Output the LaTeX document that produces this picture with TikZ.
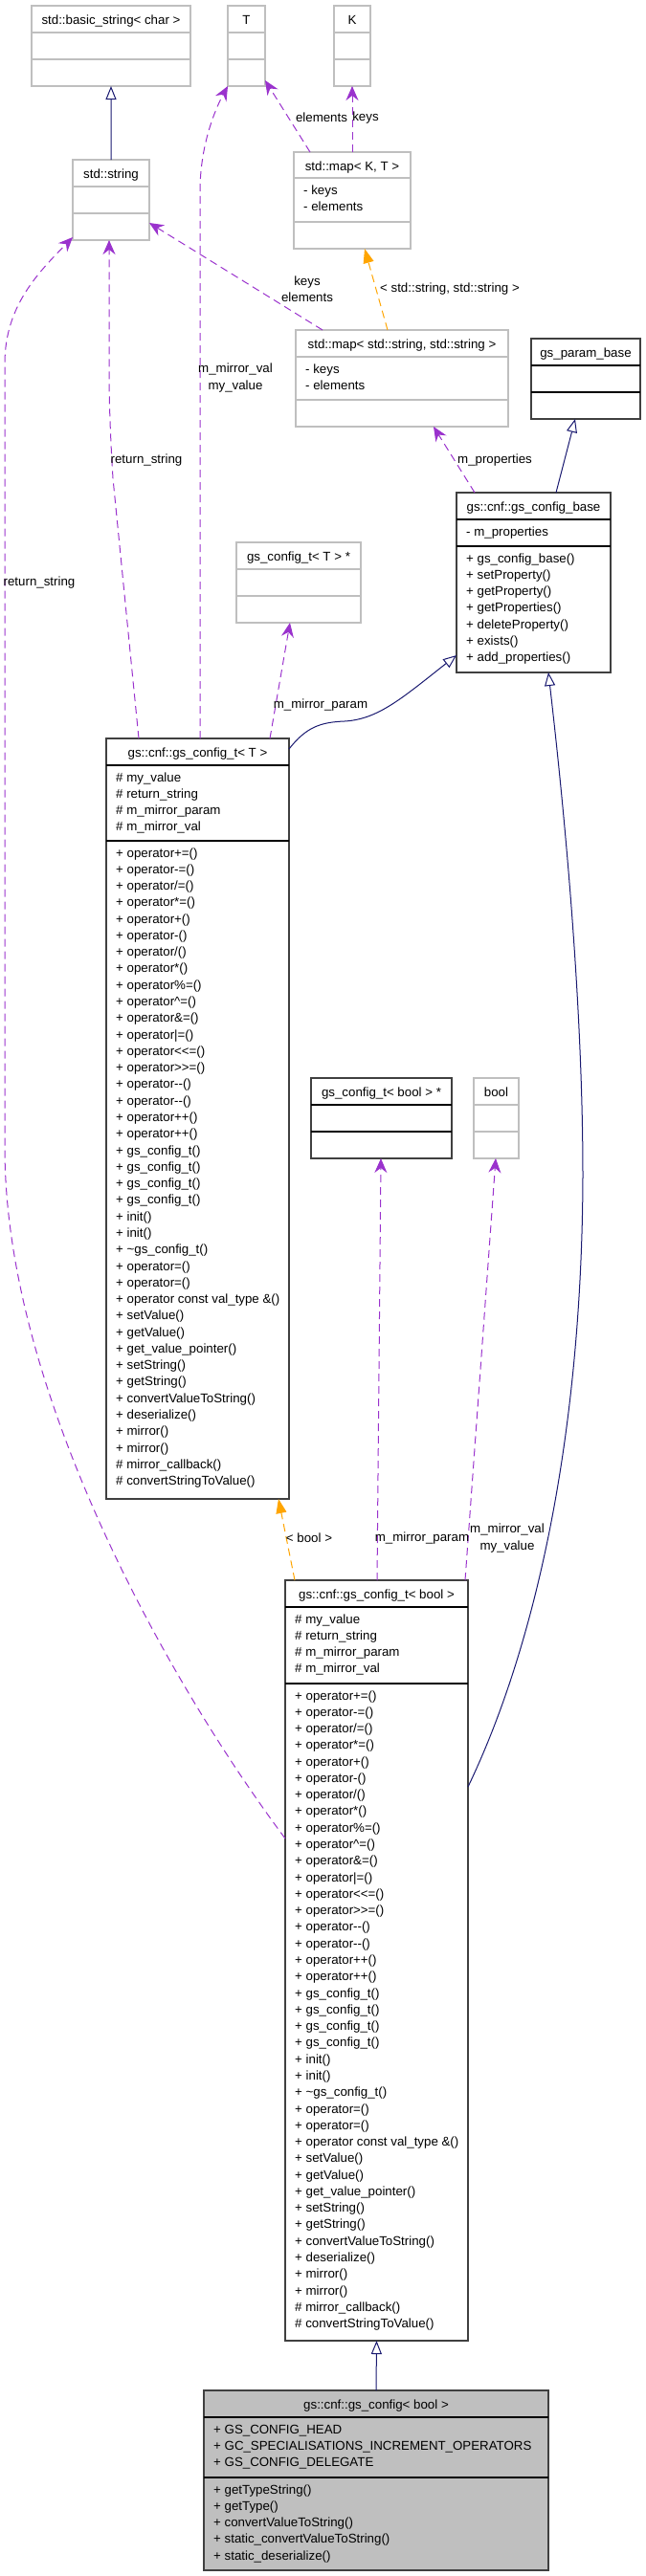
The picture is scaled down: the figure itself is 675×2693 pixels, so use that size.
\documentclass[tikz,border=0pt]{standalone}
\usepackage{fontspec}
\setmainfont{Liberation Sans}
\usetikzlibrary{arrows.meta,calc}
\definecolor{usecol}{HTML}{9A32CD}
\definecolor{tplcol}{HTML}{FFA500}
\definecolor{inhcol}{HTML}{191970}
\definecolor{undoc}{HTML}{BFBFBF}
\definecolor{docb}{HTML}{404040}
\tikzset{
  ucls/.style={draw=undoc, fill=white, line width=1.3bp, rectangle, inner sep=0pt, outer sep=0pt, anchor=north west},
  dcls/.style={draw=docb, fill=white, line width=1.3bp, rectangle, inner sep=0pt, outer sep=0pt, anchor=north west},
  gcls/.style={draw=docb, fill=undoc, line width=1.3bp, rectangle, inner sep=0pt, outer sep=0pt, anchor=north west},
  udiv/.style={draw=undoc, line width=1.3bp},
  ddiv/.style={draw=black, line width=1.3bp},
  txt/.style={font=\fontsize{13.3bp}{17.28bp}\selectfont, inner sep=0pt, text=black},
  lbl/.style={txt, align=center},
  usearrow/.style={draw=usecol, line width=1bp, dash pattern=on 8bp off 5bp,
    -{Stealth[length=15bp, width=13bp, inset=5bp]}},
  tplarrow/.style={draw=tplcol, line width=1bp, dash pattern=on 8bp off 5bp,
    -{Triangle[length=15bp, width=11bp]}},
  inharrow/.style={draw=inhcol, line width=1bp,
    -{Triangle[open, length=14bp, width=11bp, fill=white]}},
}
\newcommand\cbox[7]{%
  \node[#2, minimum width=#5bp, minimum height=#6bp] (#1) at (#3,#4) {};
  \node[txt, anchor=base] (#1-t) at ($(#1.north)+(0,19)$) {#7};
}
\newcommand\hdiv[3]{\draw[#3] ($(#1.north west)+(0,#2)$) -- ($(#1.north east)+(0,#2)$);}
\newcommand\mlist[4]{%
  \foreach \m [count=\i] in #4 {
    \node[txt, anchor=base west] (#1-#3\i) at ($(#1.north west)+(10,{#2+17+(\i-1)*17.28})$) {\m};
  }
}
\def\cfgmethods{+ operator+=(),+ operator-=(),+ operator/=(),+ operator*=(),+ operator+(),+ operator-(),+ operator/(),+ operator*(),+ operator\%=(),+ operator\textasciicircum=(),+ operator\&=(),+ operator|=(),+ operator<{}<=(),+ operator>{}>=(),+ operator-{}-(),+ operator-{}-(),+ operator++(),+ operator++(),+ gs\_config\_t(),+ gs\_config\_t(),+ gs\_config\_t(),+ gs\_config\_t(),+ init(),+ init(),+ \textasciitilde gs\_config\_t(),+ operator=(),+ operator=(),+ operator const val\_type \&(),+ setValue(),+ getValue(),+ get\_value\_pointer(),+ setString(),+ getString(),+ convertValueToString(),+ deserialize(),+ mirror(),+ mirror(),\# mirror\_callback(),\# convertStringToValue()}
\def\cfgattrs{\# my\_value,\# return\_string,\# m\_mirror\_param,\# m\_mirror\_val}
\begin{document}
\begin{tikzpicture}[x=1bp,y=-1bp]
\useasboundingbox (0,0) rectangle (675,2693);

% ---- classes ----
\cbox{bs}{ucls}{33}{6}{166}{84}{std::basic\_string< char >}
\hdiv{bs}{28}{udiv}\hdiv{bs}{56}{udiv}

\cbox{tT}{ucls}{238}{6}{39}{84}{T}
\hdiv{tT}{28}{udiv}\hdiv{tT}{56}{udiv}

\cbox{tK}{ucls}{349}{6}{38}{84}{K}
\hdiv{tK}{28}{udiv}\hdiv{tK}{56}{udiv}

\cbox{str}{ucls}{76}{167}{80}{84}{std::string}
\hdiv{str}{28}{udiv}\hdiv{str}{56}{udiv}

\cbox{mKT}{ucls}{307}{159}{122}{101}{std::map< K, T >}
\hdiv{mKT}{27}{udiv}\hdiv{mKT}{73}{udiv}
\mlist{mKT}{27}{a}{{- keys,- elements}}

\cbox{mSS}{ucls}{309}{345}{222}{101}{std::map< std::string, std::string >}
\hdiv{mSS}{28}{udiv}\hdiv{mSS}{73}{udiv}
\mlist{mSS}{28}{a}{{- keys,- elements}}

\cbox{pb}{dcls}{555}{354}{114}{84}{gs\_param\_base}
\hdiv{pb}{28}{ddiv}\hdiv{pb}{56}{ddiv}

\cbox{cb}{dcls}{477}{515}{161}{188}{gs::cnf::gs\_config\_base}
\hdiv{cb}{28}{ddiv}\hdiv{cb}{56}{ddiv}
\mlist{cb}{28}{a}{{- m\_properties}}
\mlist{cb}{56}{m}{{+ gs\_config\_base(),+ setProperty(),+ getProperty(),+ getProperties(),+ deleteProperty(),+ exists(),+ add\_properties()}}

\cbox{ctp}{ucls}{247}{567}{130}{84}{gs\_config\_t< T > *}
\hdiv{ctp}{28}{udiv}\hdiv{ctp}{56}{udiv}

\cbox{ct}{dcls}{111}{772}{191}{795}{gs::cnf::gs\_config\_t< T >}
\hdiv{ct}{28}{ddiv}\hdiv{ct}{107}{ddiv}
\mlist{ct}{28}{a}{\cfgattrs}
\mlist{ct}{107}{m}{\cfgmethods}

\cbox{cbp}{dcls}{325}{1127}{147}{84}{gs\_config\_t< bool > *}
\hdiv{cbp}{28}{ddiv}\hdiv{cbp}{56}{ddiv}

\cbox{bl}{ucls}{495}{1127}{47}{84}{bool}
\hdiv{bl}{28}{udiv}\hdiv{bl}{56}{udiv}

\cbox{cbt}{dcls}{298}{1652}{191}{795}{gs::cnf::gs\_config\_t< bool >}
\hdiv{cbt}{28}{ddiv}\hdiv{cbt}{108}{ddiv}
\mlist{cbt}{28}{a}{\cfgattrs}
\mlist{cbt}{108}{m}{\cfgmethods}

\cbox{cg}{gcls}{213}{2499}{360}{188}{gs::cnf::gs\_config< bool >}
\hdiv{cg}{28}{ddiv}\hdiv{cg}{91}{ddiv}
\mlist{cg}{28}{a}{{+ GS\_CONFIG\_HEAD,+ GC\_SPECIALISATIONS\_INCREMENT\_OPERATORS,+ GS\_CONFIG\_DELEGATE}}
\mlist{cg}{91}{m}{{+ getTypeString(),+ getType(),+ convertValueToString(),+ static\_convertValueToString(),+ static\_deserialize()}}

% ---- connectors ----
\draw[inharrow] (str.north) -- (bs.south);
\draw[usearrow] ($(ct.north west)+(98,0)$) -- (209,200) .. controls (209,150) and (226,112) .. (tT.south west);
\draw[usearrow] ($(mSS.north west)+(28,0)$) -- ($(str.south east)+(0,-18)$);
\draw[usearrow] ($(mKT.north west)+(17,0)$) -- ($(tT.south east)+(0,-6)$);
\draw[usearrow] ($(mKT.north west)+(61,0)$) -- ($(tK.south west)+(19,0)$);
\draw[tplarrow] ($(mSS.north west)+(96,0)$) -- ($(mKT.south west)+(74,0)$);
\draw[usearrow] ($(cb.north west)+(19,0)$) -- ($(mSS.south west)+(144,0)$);
\draw[inharrow] ($(cb.north west)+(104,0)$) -- ($(pb.south west)+(46,0)$);
\draw[inharrow] ($(ct.north east)+(0,11)$) .. controls (320,760) and (335,755) .. (360,754) .. controls (395,752) and (420,730) .. ($(cb.south west)+(0,-18)$);
\draw[usearrow] ($(ct.north west)+(171,0)$) -- ($(ctp.south west)+(56,0)$);
\draw[usearrow] ($(ct.north west)+(34,0)$) -- (118,500) .. controls (115,450) and (114,420) .. (114,380) -- ($(str.south west)+(38,0)$);
\draw[usearrow] ($(cbt.north west)+(0,270)$) .. controls (170,1750) and (5,1450) .. (5,1200) -- (5,380) .. controls (5,320) and (40,285) .. ($(str.south west)+(0,-3)$);
\draw[tplarrow] ($(cbt.north west)+(10,0)$) -- ($(ct.south west)+(180,0)$);
\draw[usearrow] ($(cbt.north west)+(96,0)$) -- ($(cbp.south west)+(73,0)$);
\draw[usearrow] ($(cbt.north west)+(188,0)$) -- ($(bl.south west)+(23,0)$);
\draw[inharrow] ($(cbt.north east)+(0,216)$) .. controls (560,1720) and (608,1500) .. (609,1230) .. controls (609,1050) and (590,850) .. ($(cb.south west)+(96,0)$);
\draw[inharrow] (cg.north) -- (cbt.south);

% ---- labels ----
\node[lbl] (l2) at (246,395) {m\_mirror\_val\\my\_value};
\node[lbl] (l3) at (321,302) {keys\\elements};
\node[lbl] (l4) at (336,123) {elements};
\node[lbl] (l5) at (382,123) {keys};
\node[lbl] (l6) at (470,302) {< std::string, std::string >};
\node[lbl] (l7) at (517,481) {m\_properties};
\node[lbl] (l10) at (335,737) {m\_mirror\_param};
\node[lbl] (l11) at (153,481) {return\_string};
\node[lbl] (l12) at (41,609) {return\_string};
\node[lbl] (l13) at (323,1608) {< bool >};
\node[lbl] (l14) at (441,1608) {m\_mirror\_param};
\node[lbl] (l15) at (530,1608) {m\_mirror\_val\\my\_value};
\end{tikzpicture}
\end{document}
